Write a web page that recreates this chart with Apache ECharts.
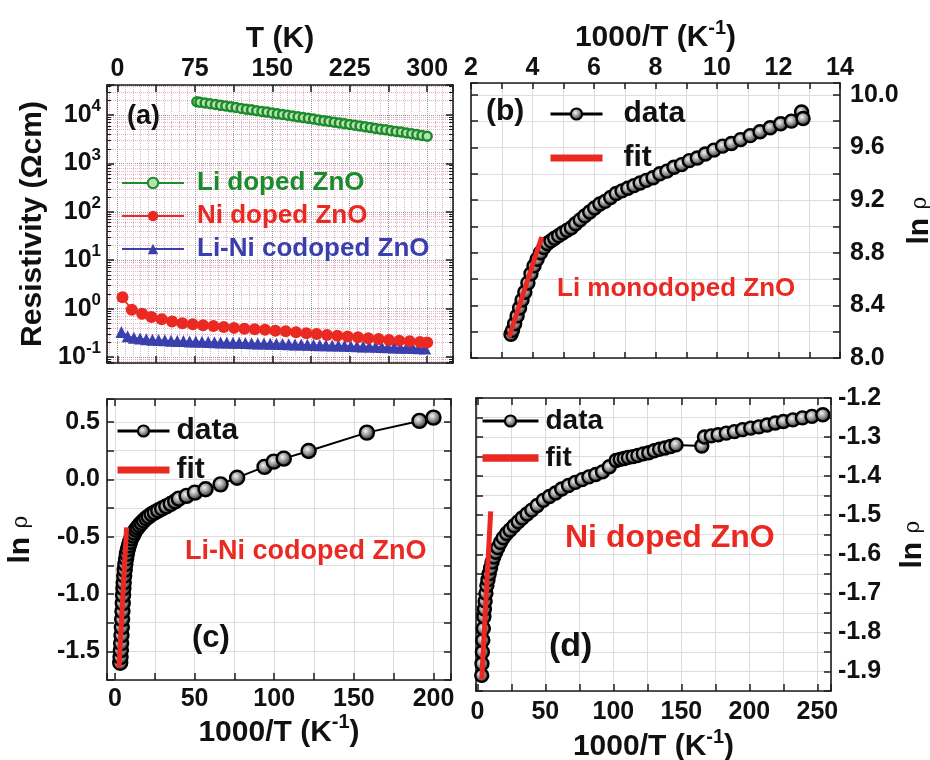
<!DOCTYPE html>
<html><head><meta charset="utf-8">
<script src="https://cdn.jsdelivr.net/npm/echarts@6/dist/echarts.min.js"></script>
<style>html,body{margin:0;padding:0;background:#fff}#c{width:930px;height:760px}</style>
</head><body><div id="c"></div>
<script>
// ---------- Panel (a): resistivity vs T ----------
const liT = [77,80,85,90,95,100,105,110,115,120,125,130,135,140,145,150,155,160,165,170,175,180,185,190,195,200,205,210,215,220,225,230,235,240,245,250,255,260,265,270,275,280,285,290,295,300];
const liRho = [18800,18400,17800,17100,16500,15900,15400,14800,14300,13700,13200,12800,12300,11900,11500,11000,10600,10300,9900,9550,9200,8870,8550,8250,7950,7650,7400,7100,6850,6600,6400,6150,5950,5700,5500,5300,5100,4950,4750,4600,4450,4250,4100,3950,3800,3650];
const niT = [5,14,24,33,43,53,63,73,83,93,103,113,123,133,143,153,163,173,183,193,203,213,223,233,243,253,263,273,283,293,300];
const niRho = [1.72,0.95,0.78,0.67,0.60,0.54,0.50,0.475,0.455,0.435,0.415,0.40,0.385,0.375,0.365,0.35,0.34,0.325,0.31,0.30,0.285,0.275,0.265,0.255,0.245,0.235,0.225,0.218,0.212,0.205,0.20];
const liniT = [4,10,16,22,28,34,40,46,52,58,64,70,76,82,88,94,100,106,112,118,124,130,136,142,148,154,160,166,172,178,184,190,196,202,208,214,220,226,232,238,244,250,256,262,268,274,280,286,292,298];
const liniRho = [0.33,0.27,0.25,0.24,0.233,0.228,0.224,0.221,0.218,0.215,0.213,0.21,0.208,0.206,0.204,0.202,0.2,0.199,0.197,0.196,0.194,0.193,0.191,0.19,0.188,0.187,0.185,0.184,0.182,0.181,0.179,0.178,0.176,0.175,0.173,0.172,0.17,0.168,0.167,0.165,0.164,0.162,0.161,0.159,0.158,0.156,0.155,0.153,0.152,0.15];
const aXTicks = [0,75,150,225,300];
const aYExps = [-1,0,1,2,3,4];

// ---------- Panel (b): Li monodoped ----------
const bX = [3.30,3.35,3.42,3.50,3.58,3.66,3.75,3.85,3.95,4.05,4.15,4.26,4.37,4.48,4.60,4.72,4.85,4.98,5.12,5.26,5.40,5.55,5.70,5.86,6.02,6.19,6.36,6.54,6.72,6.91,7.10,7.30,7.50,7.70,7.92,8.14,8.37,8.60,8.85,9.10,9.36,9.62,9.90,10.18,10.47,10.77,11.08,11.40,11.73,12.07,12.42,12.75,12.80];
const bY = [8.18,8.21,8.26,8.32,8.38,8.44,8.50,8.57,8.64,8.70,8.75,8.80,8.84,8.87,8.89,8.91,8.93,8.95,8.97,8.99,9.02,9.05,9.08,9.11,9.14,9.17,9.19,9.22,9.25,9.27,9.29,9.31,9.33,9.35,9.37,9.40,9.42,9.45,9.47,9.50,9.52,9.55,9.58,9.61,9.63,9.66,9.69,9.72,9.75,9.78,9.80,9.87,9.82];
const bFitX = [3.24,4.30];
const bFitY = [8.16,8.92];
const bXTicks = [2,4,6,8,10,12,14];
const bYTicks = [8.0,8.4,8.8,9.2,9.6,10.0];

// ---------- Panel (c): Li-Ni codoped ----------
const cX = [3.3,3.5,3.7,3.9,4.1,4.3,4.5,4.7,4.9,5.1,5.3,5.5,5.8,6.1,6.5,7.0,7.5,8.1,8.8,9.5,10.3,11.2,12.1,13.1,14.2,15.4,16.7,18.1,19.6,21.2,23,25,27.2,29.6,32.2,35,37.8,40.1,45,50.2,56.9,66.3,76.7,93.9,99.7,106,121.6,158.2,191.2,200];
const cY = [-1.60,-1.55,-1.49,-1.43,-1.36,-1.29,-1.22,-1.15,-1.08,-1.01,-0.95,-0.90,-0.84,-0.79,-0.74,-0.69,-0.65,-0.61,-0.575,-0.545,-0.515,-0.49,-0.465,-0.44,-0.42,-0.40,-0.38,-0.36,-0.34,-0.325,-0.305,-0.29,-0.272,-0.255,-0.236,-0.215,-0.193,-0.169,-0.145,-0.116,-0.087,-0.044,0.014,0.108,0.154,0.18,0.247,0.407,0.509,0.538];
const cFitX = [2.5,7.3];
const cFitY = [-1.645,-0.42];
const cXTicks = [0,50,100,150,200];
const cYTicks = [-1.5,-1.0,-0.5,0.0,0.5];

// ---------- Panel (d): Ni doped ----------
const dX = [3.2,3.4,3.7,4.0,4.4,4.8,5.2,5.7,6.3,7.0,7.8,8.7,9.7,10.8,12,13.5,15,17,19,21.5,24,27,30,33,36.5,40,44,48.5,53,57.5,62,67,72,77,82,87,92,97,102,105,108,111,114.5,118,122,126,130,134,138,142,146,165,167,172,177,183,189,195,201,207,213,219,225,232,239,246,254];
const dY = [-1.91,-1.88,-1.85,-1.82,-1.79,-1.76,-1.74,-1.72,-1.70,-1.68,-1.665,-1.65,-1.635,-1.62,-1.607,-1.595,-1.583,-1.57,-1.558,-1.547,-1.538,-1.527,-1.517,-1.507,-1.497,-1.487,-1.475,-1.462,-1.452,-1.443,-1.433,-1.424,-1.416,-1.409,-1.402,-1.396,-1.389,-1.376,-1.36,-1.357,-1.355,-1.352,-1.35,-1.347,-1.343,-1.34,-1.335,-1.331,-1.328,-1.324,-1.32,-1.323,-1.30,-1.297,-1.294,-1.29,-1.286,-1.281,-1.277,-1.274,-1.269,-1.264,-1.26,-1.256,-1.251,-1.247,-1.243];
const dFitX = [3.2,9.8];
const dFitY = [-1.92,-1.49];
const dXTicks = [0,50,100,150,200,250];
const dYTicks = [-1.9,-1.8,-1.7,-1.6,-1.5,-1.4,-1.3,-1.2];

// ---------- styling ----------
const FONT = 'Liberation Sans';
const AXC = '#1c1c1c';
const GREEN = '#1b8c2b', RED = '#ea2a22', BLUE = '#3a3fae';
const LBL = {fontFamily: FONT, fontWeight: 'bold', fontSize: 25, color: '#111'};
const GRIDLINE = {color: '#dddddd', width: 1, type: 'solid'};
const DOTMAJ = {color: '#9a9a9a', width: 1, type: 'dotted'};
const DOTMIN = {color: '#e2b2c4', width: 1, type: 'dotted'};

const zip = (xs, ys) => xs.map((x, i) => [x, ys[i]]);
const pick = (list, digits) => v => {
  for (const L of list) if (Math.abs(v - L) < 1e-6) return digits == null ? String(L) : L.toFixed(digits);
  return '';
};
const expFmt = v => {
  const e = Math.log10(v), r = Math.round(e);
  if (Math.abs(e - r) < 1e-6 && aYExps.includes(r)) return '{b|10}{s|' + r + '}';
  return '';
};
const supRich = {
  b: {fontFamily: FONT, fontWeight: 'bold', fontSize: 25, lineHeight: 34, color: '#111'},
  s: {fontFamily: FONT, fontWeight: 'bold', fontSize: 17, verticalAlign: 'top', color: '#111'}
};
const nameRich = {
  b: {fontFamily: FONT, fontWeight: 'bold', fontSize: 30, lineHeight: 40, color: '#111'},
  s: {fontFamily: FONT, fontWeight: 'bold', fontSize: 20, verticalAlign: 'top', color: '#111'},
  r: {fontFamily: 'DejaVu Serif', fontWeight: 'normal', fontSize: 22, color: '#111'}
};

function mkAxis(p) {
  const a = {
    type: p.log ? 'log' : 'value',
    gridIndex: p.grid, position: p.pos, min: p.min, max: p.max,
    axisLine: {show: true, onZero: false, lineStyle: {color: AXC, width: 1.6}},
    axisTick: {show: true, inside: true, length: p.tickLen || 7, lineStyle: {color: AXC, width: 1.5}},
    splitLine: p.split ? {show: true, lineStyle: p.split} : {show: false},
    axisLabel: {show: false},
    silent: true
  };
  if (p.log) a.logBase = 10;
  if (p.interval != null) a.interval = p.interval;
  if (p.step != null) { a.minInterval = p.step; a.maxInterval = p.step; }
  if (p.fmt) a.axisLabel = Object.assign({show: true, margin: p.margin, formatter: p.fmt, showMinLabel: true, showMaxLabel: true}, LBL, p.rich ? {rich: p.rich} : {});
  if (p.minorN) {
    a.minorTick = {show: !!p.minorTickShow, splitNumber: p.minorN, length: 4, lineStyle: {color: AXC, width: 1}};
    a.minorSplitLine = p.minorSplit ? {show: true, lineStyle: p.minorSplit} : {show: false};
  }
  if (p.name) {
    a.name = p.name; a.nameLocation = 'middle'; a.nameGap = p.nameGap;
    if (p.nameRotate != null) a.nameRotate = p.nameRotate;
    a.nameTextStyle = {fontFamily: FONT, fontWeight: 'bold', fontSize: 30, color: '#111', rich: nameRich};
  }
  return a;
}

const aMin = 0.0752, aMax = 41800;
const xAxes = [
  mkAxis({grid: 0, pos: 'top', min: -10, max: 325, step: 37.5, fmt: pick(aXTicks), margin: 3, split: DOTMAJ, minorN: 5, minorSplit: DOTMIN, name: '{b|T (K)}', nameGap: 26}),
  mkAxis({grid: 0, pos: 'bottom', min: -10, max: 325, step: 37.5}),
  mkAxis({grid: 1, pos: 'top', min: 2, max: 14, interval: 1, fmt: pick(bXTicks), margin: 2, split: GRIDLINE, tickLen: 6, name: '{b|1000/T (K}{s|-1}{b|)}', nameGap: 25}),
  mkAxis({grid: 1, pos: 'bottom', min: 2, max: 14, interval: 1, tickLen: 6}),
  mkAxis({grid: 2, pos: 'bottom', min: -5, max: 211, step: 25, fmt: pick(cXTicks), margin: 7, split: GRIDLINE, name: '{b|1000/T (K}{s|-1}{b|)}', nameGap: 24}),
  mkAxis({grid: 2, pos: 'top', min: -5, max: 211, step: 25}),
  mkAxis({grid: 3, pos: 'bottom', min: -1, max: 260, step: 25, fmt: pick(dXTicks), margin: 9, split: GRIDLINE, name: '{b|1000/T (K}{s|-1}{b|)}', nameGap: 36}),
  mkAxis({grid: 3, pos: 'top', min: -1, max: 260, step: 25})
];
const yAxes = [
  mkAxis({grid: 0, pos: 'left', log: true, min: aMin, max: aMax, fmt: expFmt, rich: supRich, margin: 6, split: DOTMAJ, minorN: 9, minorTickShow: true, minorSplit: DOTMIN, name: '{b|Resistivity (Ωcm)}', nameGap: 54, nameRotate: 90}),
  mkAxis({grid: 0, pos: 'right', log: true, min: aMin, max: aMax, minorN: 9, minorTickShow: true}),
  mkAxis({grid: 1, pos: 'right', min: 8, max: 10.09, interval: 0.2, fmt: pick(bYTicks, 1), margin: 10, split: GRIDLINE, name: '{b|ln }{r|ρ}', nameGap: 60, nameRotate: 90}),
  mkAxis({grid: 1, pos: 'left', min: 8, max: 10.09, interval: 0.2}),
  mkAxis({grid: 2, pos: 'left', min: -1.75, max: 0.7, interval: 0.25, fmt: pick(cYTicks, 1), margin: 7, split: GRIDLINE, name: '{b|ln }{r|ρ}', nameGap: 66, nameRotate: 90}),
  mkAxis({grid: 2, pos: 'right', min: -1.75, max: 0.7, interval: 0.25}),
  mkAxis({grid: 3, pos: 'right', min: -1.95, max: -1.2, interval: 0.05, fmt: pick(dYTicks, 1), margin: 7, split: GRIDLINE, name: '{b|ln }{r|ρ}', nameGap: 62, nameRotate: 90}),
  mkAxis({grid: 3, pos: 'left', min: -1.95, max: -1.2, interval: 0.05})
];

const ball = {type: 'radial', x: 0.42, y: 0.4, r: 0.6, colorStops: [{offset: 0, color: '#f4f4f4'}, {offset: 0.45, color: '#9a9a9a'}, {offset: 1, color: '#1a1a1a'}]};
function dataSeries(xi, xs, ys, size) {
  return {name: 'data', type: 'line', xAxisIndex: xi, yAxisIndex: xi, data: zip(xs, ys), symbol: 'circle', symbolSize: size,
    lineStyle: {color: '#000', width: 2}, itemStyle: {color: ball, borderColor: '#000', borderWidth: 2.4}, silent: true, z: 3};
}
function fitSeries(xi, xs, ys) {
  return {name: 'fit', type: 'line', xAxisIndex: xi, yAxisIndex: xi, data: zip(xs, ys), symbol: 'none',
    lineStyle: {color: RED, width: 5}, itemStyle: {color: RED}, silent: true, z: 4};
}

const series = [
  {name: 'Li doped ZnO', type: 'line', xAxisIndex: 0, yAxisIndex: 0, data: zip(liT, liRho), symbol: 'circle', symbolSize: 9,
    lineStyle: {color: GREEN, width: 1.5}, itemStyle: {color: '#b9e0b0', borderColor: GREEN, borderWidth: 2.5}, silent: true},
  {name: 'Li-Ni codoped ZnO', type: 'line', xAxisIndex: 0, yAxisIndex: 0, data: zip(liniT, liniRho), symbol: 'triangle', symbolSize: 12,
    lineStyle: {color: BLUE, width: 1.5}, itemStyle: {color: BLUE}, silent: true},
  {name: 'Ni doped ZnO', type: 'line', xAxisIndex: 0, yAxisIndex: 0, data: zip(niT, niRho), symbol: 'circle', symbolSize: 12,
    lineStyle: {color: RED, width: 1.5}, itemStyle: {color: RED}, silent: true},
  dataSeries(2, bX, bY, 13), fitSeries(2, bFitX, bFitY),
  dataSeries(4, cX, cY, 14), fitSeries(4, cFitX, cFitY),
  dataSeries(6, dX, dY, 13), fitSeries(6, dFitX, dFitY)
];

const FIT_ICON = 'path://M0 0H60V8H0Z';
const legText = (size, pad) => ({fontFamily: FONT, fontWeight: 'bold', fontSize: size, color: '#111', padding: [0, 0, 0, pad]});
const legBase = {orient: 'vertical', selectedMode: false};
const bcdLegendData = [{name: 'data', lineStyle: {width: 3}}, {name: 'fit', icon: FIT_ICON}];
const legends = [
  Object.assign({}, legBase, {left: 116, top: 165, itemWidth: 62, itemHeight: 13, itemGap: 7, textStyle: legText(26, 8),
    data: [{name: 'Li doped ZnO', textStyle: {color: GREEN}}, {name: 'Ni doped ZnO', textStyle: {color: RED}}, {name: 'Li-Ni codoped ZnO', textStyle: {color: BLUE}}]}),
  Object.assign({}, legBase, {left: 544, top: 94, itemWidth: 52, itemHeight: 14, itemGap: 14, textStyle: legText(30, 16), data: bcdLegendData}),
  Object.assign({}, legBase, {left: 111, top: 411, itemWidth: 52, itemHeight: 14, itemGap: 9, textStyle: legText(30, 2), data: bcdLegendData}),
  Object.assign({}, legBase, {left: 476, top: 402, itemWidth: 56, itemHeight: 14, itemGap: 9, textStyle: legText(28, 2), data: bcdLegendData})
];

const txt = (x, y, text, size, color) => ({type: 'text', x: x, y: y, silent: true, z: 100,
  style: {text: text, fontFamily: FONT, fontWeight: 'bold', fontSize: size, fill: color || '#111', align: 'left', verticalAlign: 'middle'}});

const option = {
  animation: false,
  backgroundColor: '#ffffff',
  grid: [
    {left: 107, top: 85, width: 346, height: 278, containLabel: false, outerBoundsMode: 'none'},
    {left: 471, top: 83, width: 369, height: 275, containLabel: false, outerBoundsMode: 'none'},
    {left: 107, top: 399, width: 344, height: 281, containLabel: false, outerBoundsMode: 'none'},
    {left: 476, top: 398, width: 355, height: 293, containLabel: false, outerBoundsMode: 'none'}
  ],
  xAxis: xAxes,
  yAxis: yAxes,
  legend: legends,
  series: series,
  graphic: [
    txt(127, 117, '(a)', 27),
    txt(486, 112, '(b)', 30),
    txt(192, 638, '(c)', 31),
    txt(549, 647, '(d)', 34),
    txt(557, 289, 'Li monodoped ZnO', 26, RED),
    txt(185, 552, 'Li-Ni codoped ZnO', 27, RED),
    txt(565, 538, 'Ni doped ZnO', 32, RED)
  ]
};
const chart = echarts.init(document.getElementById('c'), null, {renderer: 'canvas'});
chart.setOption(option);
</script>
</body></html>
